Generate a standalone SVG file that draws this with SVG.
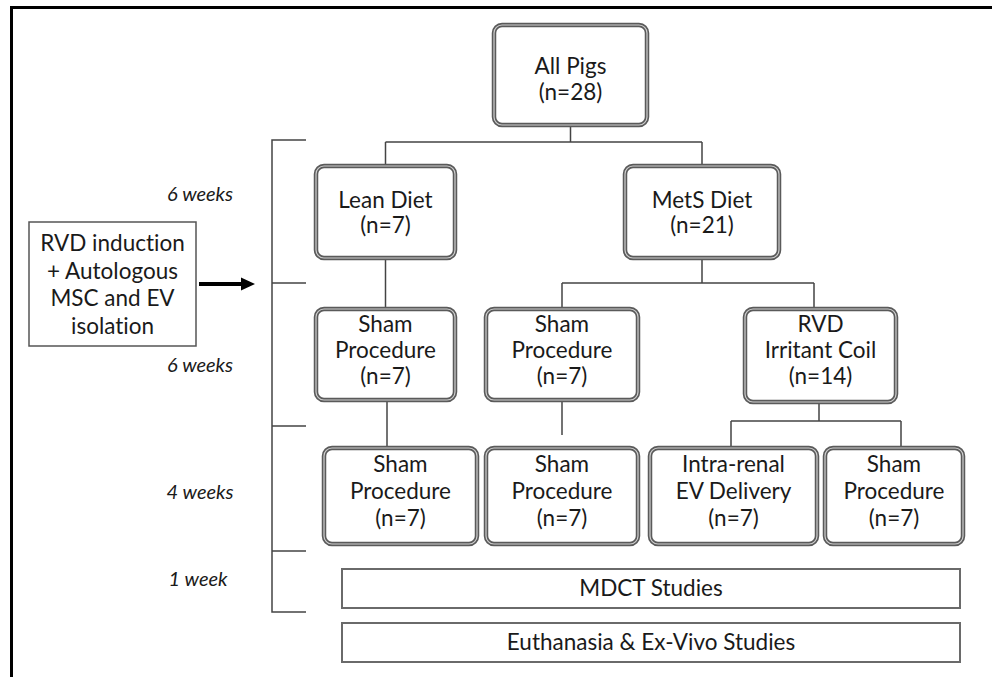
<svg xmlns="http://www.w3.org/2000/svg" width="992" height="677" viewBox="0 0 992 677">
<style>
.b1{fill:#fff;stroke:#5a5a5a;stroke-width:4.5}
.b2{fill:none;stroke:#cfcfcf;stroke-width:1.2}
.pl{fill:#fff;stroke:#6a6a6a;stroke-width:2}
.t{font-family:Lato,"Open Sans",sans-serif;font-size:22.5px;fill:#1a1a1a;text-anchor:middle;font-variant-ligatures:none}
.w{font-family:Lato,"Open Sans",sans-serif;font-size:20px;font-style:italic;fill:#1a1a1a;text-anchor:middle}
.c{fill:none;stroke:#444;stroke-width:1.5}
</style>
<rect width="992" height="677" fill="#fff"/>
<path d="M11.5 677 V7.5 H992" fill="none" stroke="#000" stroke-width="3"/>

<g id="connectors">
<path class="c" d="M570.5 125 V142 M385.5 142 H702 M385.5 142 V166 M702 142 V166"/>
<path class="c" d="M385.5 258 V309"/>
<path class="c" d="M702 258 V283 M562 283 H814 M562 283 V309 M814 283 V309"/>
<path class="c" d="M387 400 V448"/>
<path class="c" d="M562 400 V435"/>
<path class="c" d="M819 402 V421 M731 421 H901 M731 421 V448 M901 421 V448"/>
<path class="c" d="M306 140 H272 V612 H306 M272 283 H306 M272 426 H306 M272 551 H306"/>
<line x1="199" y1="284" x2="243" y2="284" stroke="#000" stroke-width="4"/>
<polygon points="241,277.5 255,284 241,290.5" fill="#000"/>
</g>

<g id="timeline">
<text class="w" x="200" y="201">6 weeks</text>
<text class="w" x="200" y="372">6 weeks</text>
<text class="w" x="200" y="499">4 weeks</text>
<text class="w" x="198" y="586">1 week</text>
</g>

<g id="rvd-induction">
<rect x="29" y="222" width="167" height="124" fill="#fff" stroke="#555" stroke-width="1.5"/>
<text class="t" x="112.5" y="251">RVD induction</text>
<text class="t" x="112.5" y="278.5">+ Autologous</text>
<text class="t" x="112.5" y="306">MSC and EV</text>
<text class="t" x="112.5" y="333.5">isolation</text>
</g>

<g id="all-pigs">
<rect class="b1" x="494" y="25" width="153" height="100" rx="8"/>
<rect class="b2" x="494" y="25" width="153" height="100" rx="8"/>
<text class="t" x="570.5" y="74">All Pigs</text>
<text class="t" x="570.5" y="100">(n=28)</text>
</g>

<g id="lean-diet">
<rect class="b1" x="316" y="166" width="139" height="92" rx="8"/>
<rect class="b2" x="316" y="166" width="139" height="92" rx="8"/>
<text class="t" x="385.5" y="208">Lean Diet</text>
<text class="t" x="385.5" y="233">(n=7)</text>
</g>

<g id="mets-diet">
<rect class="b1" x="625" y="166" width="154" height="92" rx="8"/>
<rect class="b2" x="625" y="166" width="154" height="92" rx="8"/>
<text class="t" x="702" y="208">MetS Diet</text>
<text class="t" x="702" y="233">(n=21)</text>
</g>

<g id="sham-lean-1">
<rect class="b1" x="316" y="309" width="139" height="91" rx="8"/>
<rect class="b2" x="316" y="309" width="139" height="91" rx="8"/>
<text class="t" x="385.5" y="332">Sham</text>
<text class="t" x="385.5" y="358">Procedure</text>
<text class="t" x="385.5" y="384">(n=7)</text>
</g>

<g id="sham-mets-1">
<rect class="b1" x="486" y="309" width="152" height="91" rx="8"/>
<rect class="b2" x="486" y="309" width="152" height="91" rx="8"/>
<text class="t" x="562" y="332">Sham</text>
<text class="t" x="562" y="358">Procedure</text>
<text class="t" x="562" y="384">(n=7)</text>
</g>

<g id="rvd-coil">
<rect class="b1" x="745" y="309" width="151" height="93" rx="8"/>
<rect class="b2" x="745" y="309" width="151" height="93" rx="8"/>
<text class="t" x="820.5" y="332">RVD</text>
<text class="t" x="820.5" y="358">Irritant Coil</text>
<text class="t" x="820.5" y="384">(n=14)</text>
</g>

<g id="sham-lean-2">
<rect class="b1" x="324" y="448" width="153" height="96" rx="8"/>
<rect class="b2" x="324" y="448" width="153" height="96" rx="8"/>
<text class="t" x="400.5" y="472">Sham</text>
<text class="t" x="400.5" y="499">Procedure</text>
<text class="t" x="400.5" y="526">(n=7)</text>
</g>

<g id="sham-mets-2">
<rect class="b1" x="486" y="448" width="152" height="96" rx="8"/>
<rect class="b2" x="486" y="448" width="152" height="96" rx="8"/>
<text class="t" x="562" y="472">Sham</text>
<text class="t" x="562" y="499">Procedure</text>
<text class="t" x="562" y="526">(n=7)</text>
</g>

<g id="ev-delivery">
<rect class="b1" x="650" y="448" width="167" height="96" rx="8"/>
<rect class="b2" x="650" y="448" width="167" height="96" rx="8"/>
<text class="t" x="733.5" y="472">Intra-renal</text>
<text class="t" x="733.5" y="499">EV Delivery</text>
<text class="t" x="733.5" y="526">(n=7)</text>
</g>

<g id="sham-rvd">
<rect class="b1" x="825" y="448" width="138" height="96" rx="8"/>
<rect class="b2" x="825" y="448" width="138" height="96" rx="8"/>
<text class="t" x="894" y="472">Sham</text>
<text class="t" x="894" y="499">Procedure</text>
<text class="t" x="894" y="526">(n=7)</text>
</g>

<g id="mdct">
<rect class="pl" x="342" y="569" width="618" height="39"/>
<text class="t" x="651" y="596">MDCT Studies</text>
</g>

<g id="euthanasia">
<rect class="pl" x="342" y="623" width="618" height="39"/>
<text class="t" x="651" y="650">Euthanasia &amp; Ex-Vivo Studies</text>
</g>
</svg>
